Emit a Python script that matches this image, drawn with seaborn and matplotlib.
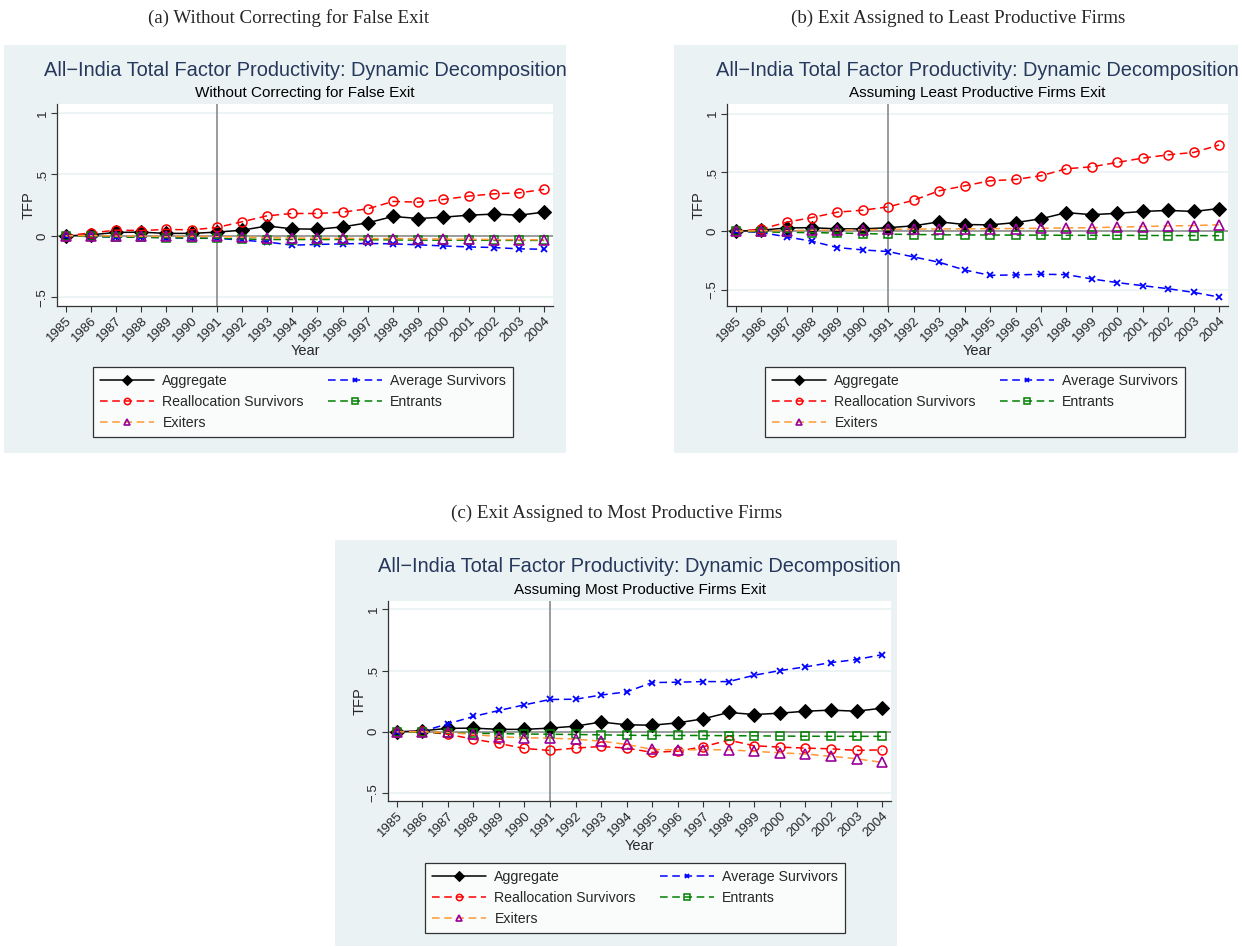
import matplotlib.pyplot as plt
import seaborn as sns
from matplotlib.patches import Rectangle

years = list(range(1985, 2005))
year_labels = [str(y) for y in years]

# aggregate TFP is the same in all three panels
aggregate = [0.0, 0.008, 0.028, 0.030, 0.020, 0.020, 0.030, 0.046, 0.080, 0.057,
             0.054, 0.073, 0.106, 0.158, 0.141, 0.152, 0.168, 0.177, 0.168, 0.193]

# (a) without correcting for false exit
avg_surv_a = [0.0, -0.005, -0.010, -0.010, -0.015, -0.020, -0.020, -0.035, -0.050, -0.076,
              -0.070, -0.065, -0.062, -0.065, -0.073, -0.082, -0.090, -0.095, -0.106, -0.109]
realloc_a = [0.0, 0.024, 0.046, 0.043, 0.052, 0.049, 0.068, 0.114, 0.163, 0.182,
             0.182, 0.193, 0.220, 0.280, 0.274, 0.296, 0.323, 0.342, 0.350, 0.378]
entrants_a = [0.0, -0.005, -0.010, -0.012, -0.015, -0.018, -0.020, -0.025, -0.030, -0.030,
              -0.030, -0.030, -0.032, -0.033, -0.035, -0.035, -0.035, -0.037, -0.037, -0.037]
exiters_a = [0.0, 0.002, -0.002, -0.003, -0.005, -0.005, -0.005, -0.010, -0.015, -0.018,
             -0.020, -0.020, -0.022, -0.022, -0.024, -0.026, -0.028, -0.030, -0.032, -0.032]

# (b) least productive firms exit
avg_surv_b = [0.0, -0.010, -0.048, -0.085, -0.139, -0.159, -0.173, -0.219, -0.264, -0.330,
              -0.375, -0.372, -0.366, -0.369, -0.406, -0.437, -0.463, -0.489, -0.520, -0.560]
realloc_b = [0.0, 0.017, 0.077, 0.116, 0.162, 0.179, 0.207, 0.264, 0.344, 0.386,
             0.429, 0.440, 0.472, 0.531, 0.548, 0.585, 0.622, 0.650, 0.670, 0.733]
entrants_b = [0.0, -0.005, -0.010, -0.012, -0.015, -0.020, -0.025, -0.028, -0.030, -0.032,
              -0.032, -0.033, -0.033, -0.035, -0.035, -0.035, -0.036, -0.037, -0.037, -0.038]
exiters_b = [0.0, 0.005, 0.005, 0.008, 0.010, 0.012, 0.015, 0.018, 0.020, 0.020,
             0.022, 0.023, 0.025, 0.028, 0.030, 0.035, 0.040, 0.045, 0.048, 0.055]

# (c) most productive firms exit
avg_surv_c = [0.0, 0.003, 0.065, 0.125, 0.174, 0.220, 0.264, 0.266, 0.300, 0.326,
              0.402, 0.405, 0.410, 0.410, 0.462, 0.500, 0.530, 0.565, 0.590, 0.630]
realloc_c = [0.0, 0.003, -0.020, -0.060, -0.095, -0.136, -0.152, -0.133, -0.120, -0.133,
             -0.168, -0.158, -0.122, -0.068, -0.114, -0.125, -0.133, -0.139, -0.152, -0.147]
entrants_c = [0.0, -0.003, -0.010, -0.012, -0.015, -0.018, -0.020, -0.022, -0.025, -0.028,
              -0.030, -0.030, -0.030, -0.032, -0.033, -0.035, -0.036, -0.037, -0.037, -0.037]
exiters_c = [0.0, 0.0, -0.005, -0.022, -0.040, -0.049, -0.052, -0.060, -0.076, -0.103,
             -0.144, -0.147, -0.147, -0.147, -0.160, -0.171, -0.182, -0.200, -0.220, -0.250]

ytick_vals = [-0.5, 0, 0.5, 1]
ytick_labels = ['\u2212.5', '0', '.5', '1']

bg = '#eaf2f3'
title_col = '#26385c'

sns.set_theme(style='white')
plt.rcParams['font.family'] = ['Liberation Sans', 'DejaVu Sans']

fig = plt.figure(figsize=(12.42, 9.47), dpi=100)
fig.patch.set_facecolor('white')


def draw_panel(panel_box, ax_box, legend_box, caption, caption_xy, subtitle,
               avg_surv, realloc, entrants, exiters, ylim):
    fig.patches.append(Rectangle(panel_box[:2], panel_box[2], panel_box[3],
                                 transform=fig.transFigure, facecolor=bg,
                                 edgecolor='none', zorder=-5))
    fig.text(caption_xy[0], caption_xy[1], caption, ha='center', va='center',
             fontsize=13.7, family='Liberation Serif')
    ax = fig.add_axes(ax_box)
    ax.set_facecolor('white')

    for yv in [-0.5, 0.5, 1]:
        ax.axhline(yv, color=bg, lw=1.2, zorder=0)
    ax.axhline(0, color='#8a8a8a', lw=1.2, zorder=1)
    ax.axvline(1991, color='#8a8a8a', lw=1.2, zorder=1)

    dash = (0, (5, 3))
    sns.lineplot(x=years, y=aggregate, ax=ax, color='black', lw=1.1,
                 marker='D', markersize=7, markeredgecolor='black',
                 label='Aggregate', zorder=3)
    sns.lineplot(x=years, y=avg_surv, ax=ax, color='#0000ff', lw=1.1,
                 linestyle=dash, marker='x', markersize=5, markeredgewidth=1.3,
                 markeredgecolor='#0000ff', label='Average Survivors', zorder=3)
    sns.lineplot(x=years, y=realloc, ax=ax, color='#ff0000', lw=1.1,
                 linestyle=dash, marker='o', markersize=6.5, markerfacecolor='none',
                 markeredgecolor='#ff0000', markeredgewidth=1.1,
                 label='Reallocation Survivors', zorder=3)
    sns.lineplot(x=years, y=entrants, ax=ax, color='#008000', lw=1.1,
                 linestyle=dash, marker='s', markersize=6, markerfacecolor='none',
                 markeredgecolor='#008000', markeredgewidth=1.1,
                 label='Entrants', zorder=3)
    sns.lineplot(x=years, y=exiters, ax=ax, color='#ff9933', lw=1.1,
                 linestyle=dash, marker='^', markersize=7, markerfacecolor='none',
                 markeredgecolor='#990099', markeredgewidth=1.2,
                 label='Exiters', zorder=3)

    ax.set_xlim(1984.66, 2004.35)
    ax.set_ylim(*ylim)
    ax.set_xticks(years)
    ax.set_xticklabels(year_labels, rotation=45, ha='right', rotation_mode='anchor',
                       fontsize=9.5)
    ax.set_yticks(ytick_vals)
    ax.set_yticklabels(ytick_labels, rotation=90, va='center', fontsize=9.5)
    ax.tick_params(axis='both', direction='out', length=4, width=0.8,
                   color='#333333', pad=2, bottom=True, left=True)
    for side in ['top', 'right']:
        ax.spines[side].set_visible(False)
    for side in ['left', 'bottom']:
        ax.spines[side].set_color('#333333')
        ax.spines[side].set_linewidth(0.9)
    ax.set_xlabel('Year', fontsize=10.5, labelpad=0)
    ax.set_ylabel('TFP', fontsize=10.5, labelpad=1)

    ax.text(0.5, 1.0 + 34 / 947 / ax_box[3], 'All\u2212India Total Factor Productivity: Dynamic Decomposition',
            transform=ax.transAxes, ha='center', va='center', fontsize=14.4,
            color=title_col)
    ax.text(0.5, 1.0 + 11 / 947 / ax_box[3], subtitle, transform=ax.transAxes,
            ha='center', va='center', fontsize=11, color='black')

    handles, labels = ax.get_legend_handles_labels()
    order = ['Aggregate', 'Reallocation Survivors', 'Exiters', 'Average Survivors', 'Entrants']
    hmap = dict(zip(labels, handles))
    leg = ax.legend([hmap[k] for k in order], order, ncol=2, loc='upper left',
                    bbox_to_anchor=legend_box, bbox_transform=fig.transFigure,
                    mode='expand', borderaxespad=0, frameon=True, fancybox=False,
                    edgecolor='black', facecolor='white', fontsize=10.2,
                    handlelength=3.8, handletextpad=0.6, labelspacing=0.5,
                    borderpad=0.5, markerscale=0.7)
    leg.get_frame().set_linewidth(0.9)
    return ax


H = 947.0
W = 1242.0


def fx(px):
    return px / W


def fy(px):
    return 1 - px / H


draw_panel((fx(4), fy(453), fx(562), 408 / H),
           (fx(57), fy(306), fx(496), 202 / H),
           (fx(93), fy(367) - 0.05, fx(420), 0.05),
           '(a) Without Correcting for False Exit', (fx(289), fy(18)),
           'Without Correcting for False Exit',
           avg_surv_a, realloc_a, entrants_a, exiters_a, (-0.571, 1.073))

draw_panel((fx(674), fy(453), fx(564), 408 / H),
           (fx(727), fy(306), fx(501), 202 / H),
           (fx(765), fy(367) - 0.05, fx(420), 0.05),
           '(b) Exit Assigned to Least Productive Firms', (fx(958), fy(18)),
           'Assuming Least Productive Firms Exit',
           avg_surv_b, realloc_b, entrants_b, exiters_b, (-0.636, 1.082))

draw_panel((fx(335), fy(946), fx(562), 406 / H),
           (fx(388), fy(801), fx(503), 200 / H),
           (fx(425), fy(863) - 0.05, fx(420), 0.05),
           '(c) Exit Assigned to Most Productive Firms', (fx(617), fy(513)),
           'Assuming Most Productive Firms Exit',
           avg_surv_c, realloc_c, entrants_c, exiters_c, (-0.565, 1.068))

fig.savefig('out.png', dpi=100, facecolor='white')
